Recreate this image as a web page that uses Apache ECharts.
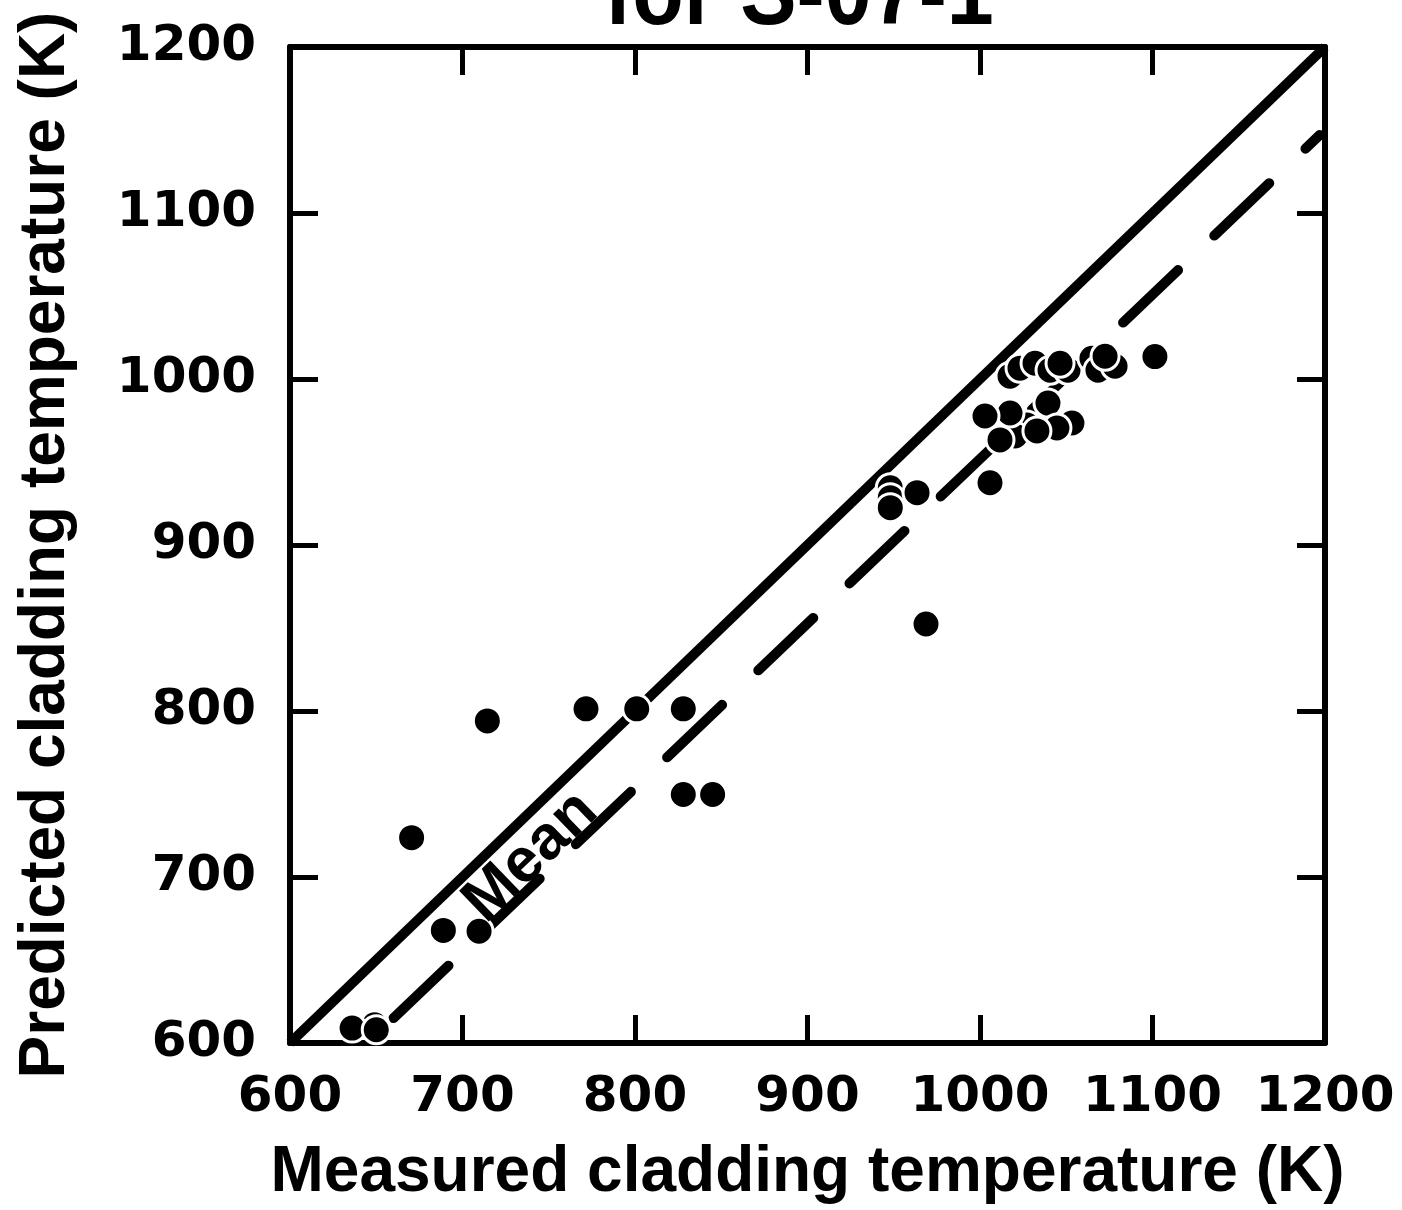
<!DOCTYPE html>
<html>
<head>
<meta charset="utf-8">
<script src="https://cdn.jsdelivr.net/npm/echarts@6/dist/echarts.min.js"></script>
<style>
html,body{margin:0;padding:0;background:#fff;}
#c{width:1402px;height:1210px;}
</style>
</head>
<body>
<div id="c"></div>
<script>
// ---- data ----
var tickValues = [600, 700, 800, 900, 1000, 1100, 1200];
var measured = [
  649, 636, 650,
  670.5, 714.4, 688.9, 709.6,
  771.6, 801, 828, 828, 845,
  948, 948, 948,
  963.5, 968.7, 1005.8,
  1039.4, 1053.3, 1044.6, 1027.2, 1020.3, 1017.4, 1033, 1002.9, 1011.6,
  1017.4, 1023.2, 1031.9, 1040.6, 1051, 1046.4, 1064.9, 1068.4, 1078.3, 1072.5,
  1101.4
];
var predicted = [
  611, 609, 608,
  723.7, 794, 667.8, 667.3,
  801.3, 801.3, 801.3, 749.7, 749.7,
  934.5, 928.5, 922.5,
  931.5, 852.4, 937.5,
  985.5, 973.5, 970.5, 972.3, 965.7, 979.5, 968.7, 977.7, 963.3,
  1001.7, 1006.5, 1009.5, 1005.3, 1005.3, 1009.5, 1012.5, 1005.3, 1007.7, 1013.7,
  1013.5
];
var perfectLine = [[600, 600], [1200, 1200]];
var meanLine = [[660, 615], [1197, 1147]];
var xTitle = 'Measured cladding temperature (K)';
var yTitle = 'Predicted cladding temperature (K)';
var chartTitle = 'for S-07-1';
var meanLabel = 'Mean';

var points = measured.map(function (m, i) { return [m, predicted[i]]; });

var labelFont = { fontFamily: 'DejaVu Sans', fontWeight: 'bold', fontSize: 50, color: '#000' };
var nameFont = { fontFamily: 'Liberation Sans', fontWeight: 'bold', fontSize: 64, color: '#000' };
function plain(v) { return String(v); }

function axisBase(extra) {
  var a = {
    type: 'value', min: tickValues[0], max: tickValues[tickValues.length - 1], interval: 100,
    axisLine: { show: true, onZero: false, lineStyle: { color: '#000', width: 6 } },
    axisTick: { show: true, inside: true, length: 28, lineStyle: { color: '#000', width: 5 } },
    splitLine: { show: false },
    axisLabel: { show: false }
  };
  for (var k in extra) a[k] = extra[k];
  return a;
}

var chart = echarts.init(document.getElementById('c'), null, { renderer: 'canvas' });
chart.setOption({
  animation: false,
  backgroundColor: '#fff',
  grid: { left: 290, right: 77, top: 47, bottom: 162 },
  xAxis: [
    axisBase({
      position: 'bottom',
      axisLabel: Object.assign({ show: true, margin: 30, showMinLabel: true, showMaxLabel: true, formatter: plain }, labelFont),
      name: xTitle, nameLocation: 'middle', nameGap: 98, nameTextStyle: nameFont
    }),
    axisBase({ position: 'top' })
  ],
  yAxis: [
    axisBase({
      position: 'left',
      axisLabel: Object.assign({ show: true, margin: 34, showMinLabel: true, showMaxLabel: true, formatter: plain }, labelFont),
      name: yTitle, nameLocation: 'middle', nameGap: 212, nameTextStyle: nameFont
    }),
    axisBase({ position: 'right' })
  ],
  graphic: [
    {
      type: 'text', x: 799, y: 46, scaleX: 0.88,
      style: { text: chartTitle, font: 'bold 96px "Liberation Sans"', fill: '#000', align: 'center', verticalAlign: 'bottom' }
    },
    {
      type: 'text', x: 531, y: 857, rotation: 44 * Math.PI / 180,
      style: { text: meanLabel, font: 'bold 62px "Liberation Sans"', fill: '#000', align: 'center', verticalAlign: 'middle' },
      z: 100
    }
  ],
  series: [
    {
      type: 'line', data: perfectLine, symbol: 'none', clip: false, z: 2,
      lineStyle: { color: '#000', width: 10 }
    },
    {
      type: 'line', data: meanLine, symbol: 'none', z: 2,
      lineStyle: { color: '#000', width: 10, type: [76, 50], cap: 'round' }
    },
    {
      type: 'scatter', data: points, symbol: 'circle', symbolSize: 28, z: 5,
      itemStyle: { color: '#000', borderColor: '#fff', borderWidth: 3, opacity: 1 }
    }
  ]
});
</script>
</body>
</html>
